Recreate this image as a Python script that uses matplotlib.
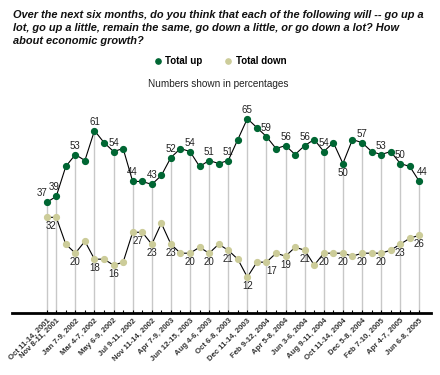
import matplotlib
matplotlib.use("Agg")
import matplotlib.pyplot as plt

plt.rcParams['font.family'] = ['Liberation Sans', 'DejaVu Sans']

dates = ["Oct 11-14, 2001", "Nov 8-11, 2001", "", "Jan 7-9, 2002", "", "Mar 4-7, 2002", "",
         "May 6-9, 2002", "", "Jul 9-11, 2002", "", "Nov 11-14, 2002", "", "Apr 7-9, 2003", "",
         "Jun 12-15, 2003", "", "Aug 4-6, 2003", "", "Oct 6-8, 2003", "", "Dec 11-14, 2003", "",
         "Feb 9-12, 2004", "", "Apr 5-8, 2004", "", "Jun 3-6, 2004", "", "Aug 9-11, 2004", "",
         "Oct 11-14, 2004", "", "Dec 5-8, 2004", "", "Feb 7-10, 2005", "", "Apr 4-7, 2005", "",
         "Jun 6-8, 2005"]
total_up = [37, 39, 49, 53, 51, 61, 57, 54, 55, 44, 44, 43, 46, 52, 55, 54, 49, 51, 50, 51,
            58, 65, 62, 59, 55, 56, 53, 56, 58, 54, 57, 50, 58, 57, 54, 53, 54, 50, 49, 44]
total_down = [32, 32, 23, 20, 24, 18, 18, 16, 17, 27, 27, 23, 30, 23, 20, 20, 22, 20, 23, 21,
              18, 12, 17, 17, 20, 19, 22, 21, 16, 20, 20, 20, 19, 20, 20, 20, 21, 23, 25, 26]

GREEN = "#006633"
TAN = "#CCCC99"

W, H = 440, 375
fig = plt.figure(figsize=(W / 100, H / 100), dpi=100)
ax = fig.add_axes([12 / W, 62 / H, (431 - 12) / W, 209.3 / H])

n = len(total_up)
xs = list(range(n))
label_idx = [i for i in xs if dates[i]]

ax.vlines(label_idx, 0, [total_up[i] for i in label_idx], color="#C8C8C8", lw=1.0, zorder=1)
ax.plot(xs, total_up, color="black", lw=0.8, zorder=2)
ax.plot(xs, total_down, color="black", lw=0.8, zorder=2)
ax.plot(xs, total_up, "o", color=GREEN, ms=4.2, mec=GREEN, zorder=3, label="Total up")
ax.plot(xs, total_down, "o", color=TAN, ms=4.2, mec=TAN, zorder=3, label="Total down")

for i in label_idx:
    dx = 0
    if i == 0:
        dx = -0.5
    if i == 1:
        dx = -0.2
    if i == 39:
        dx = 0.3
    if i == 31:
        ax.annotate(str(total_up[i]), (i, total_up[i]), xytext=(0, -9), textcoords="offset pixels",
                    ha="center", va="center", fontsize=7, color="#222222")
    else:
        ax.annotate(str(total_up[i]), (i + dx, total_up[i]), xytext=(0, 9), textcoords="offset pixels",
                    ha="center", va="center", fontsize=7, color="#222222")
    if i != 0:
        ddx = 0
        if i == 1:
            ddx = -0.5
        if i in (9, 23):
            ddx = 0.5
        ax.annotate(str(total_down[i]), (i + ddx, total_down[i]), xytext=(0, -9), textcoords="offset pixels",
                    ha="center", va="center", fontsize=7, color="#222222")

ax.set_xlim(-3.63, 40.22)
ax.set_ylim(0, 70)
for s in ("top", "right", "left"):
    ax.spines[s].set_visible(False)
ax.spines["bottom"].set_linewidth(2)
ax.set_yticks([])
ax.set_xticks(xs)
ax.set_xticklabels(dates, rotation=45, ha="right", va="top", rotation_mode="anchor",
                   fontsize=5.6, fontweight="bold", color="#333333")
ax.tick_params(axis="x", direction="in", length=2.5, width=0.8, pad=3)

fig.text(13 / W, 1 - 10 / H,
         "Over the next six months, do you think that each of the following will -- go up a\n"
         "lot, go up a little, remain the same, go down a little, or go down a lot? How\n"
         "about economic growth?",
         ha="left", va="top", fontsize=7.9, fontweight="bold", fontstyle="italic",
         linespacing=1.38, color="#111111")

fig.legend(loc="center", bbox_to_anchor=(220 / W, 1 - 61 / H), ncol=2, frameon=False,
           prop={"weight": "bold", "size": 7}, handlelength=0.8, handletextpad=0.4,
           columnspacing=2.2, markerscale=0.9)
fig.text(218 / W, 1 - 84 / H, "Numbers shown in percentages", ha="center", va="center",
         fontsize=7.2, color="#222222")

fig.savefig("out.png", dpi=100)
